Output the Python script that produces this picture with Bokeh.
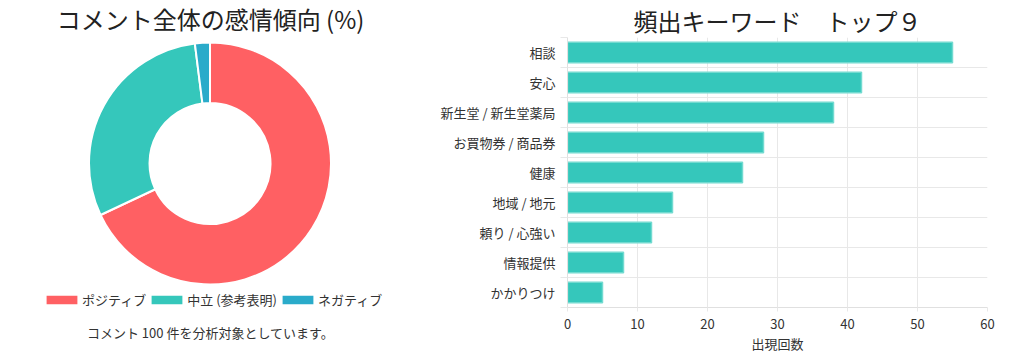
import math
from bokeh.plotting import figure
from bokeh.layouts import row
from bokeh.models import Range1d, Legend, LegendItem, FixedTicker
from bokeh.core.properties import value
from bokeh.embed import file_html
from bokeh.resources import INLINE

FONT = "Noto Sans CJK JP"

# ---- data ----
sent_labels = ["ポジティブ", "中立 (参考表明)", "ネガティブ"]
sent_values = [68, 30, 2]
sent_colors = ["#FF6063", "#35C7BB", "#2AABCA"]

keywords = ["相談", "安心", "新生堂 / 新生堂薬局", "お買物券 / 商品券", "健康",
            "地域 / 地元", "頼り / 心強い", "情報提供", "かかりつけ"]
counts = [55, 42, 38, 28, 25, 15, 12, 8, 5]
x_ticks = [0, 10, 20, 30, 40, 50, 60]

left_title = "コメント全体の感情傾向 (%)"
right_title = "頻出キーワード　トップ９"
footer = "コメント 100 件を分析対象としています。"
x_label = "出現回数"

H = 356

# ---- left: donut ----
W1 = 420
p1 = figure(width=W1, height=H, x_range=Range1d(0, W1), y_range=Range1d(0, H),
            output_backend="svg", toolbar_location=None, min_border=0)
p1.frame_align = False
p1.axis.visible = False
p1.grid.visible = False
p1.outline_line_color = None

cx, cy = 209.5, H - 163
total = sum(sent_values)
starts, ends = [], []
cum = 0
for v in sent_values:
    starts.append(math.pi / 2 - 2 * math.pi * cum / total)
    cum += v
    ends.append(math.pi / 2 - 2 * math.pi * cum / total)

r = p1.annular_wedge(x=[cx] * len(sent_values), y=[cy] * len(sent_values),
                     inner_radius=60.5, outer_radius=121,
                     start_angle=starts, end_angle=ends, direction="clock",
                     fill_color=sent_colors, line_color="white", line_width=2)

items = [LegendItem(label=lab, renderers=[r], index=i) for i, lab in enumerate(sent_labels)]
legend = Legend(items=items, orientation="horizontal", location=(41, 47),
                glyph_width=41, glyph_height=13, label_standoff=0, spacing=0,
                padding=0, margin=0, border_line_color=None, background_fill_alpha=0,
                label_text_font=FONT, label_text_font_size="13px", label_text_color="#333333")
p1.add_layout(legend, "center")

p1.text(x=[W1 / 2], y=[H - 18], text=[left_title], text_align="center", text_baseline="middle",
        text_font=value(FONT), text_font_size="24px", text_color="#222222")
p1.text(x=[W1 / 2], y=[H - 332], text=[footer], text_align="center", text_baseline="middle",
        text_font=value(FONT), text_font_size="13px", text_color="#333333")

# ---- right: horizontal bars ----
n = len(keywords)
ys = [n - 1 - i for i in range(n)]
bounds = [y + 0.5 for y in range(-1, n)]
p2 = figure(width=1024 - W1, height=H, x_range=Range1d(0, 60), y_range=Range1d(-0.5, n - 0.5),
            output_backend="svg", toolbar_location=None,
            min_border_left=147, min_border_right=37, min_border_top=35, min_border_bottom=49,
            title=right_title)
p2.frame_align = False
p2.title.align = "center"
p2.title.text_font = FONT
p2.title.text_font_size = "24px"
p2.title.text_font_style = "normal"
p2.title.text_color = "#222222"
p2.title.text_line_height = 1.0
p2.title.standoff = 0
p2.outline_line_color = None

p2.hbar(y=ys, left=0, right=counts, height=0.68, fill_color="#35C7BB",
        line_color="#72dad0", line_width=1.5)

xa = p2.xaxis[0]
xa.ticker = FixedTicker(ticks=x_ticks)
xa.axis_line_color = "#e0e0e0"
xa.major_tick_line_color = "#e8e8e8"
xa.major_tick_out = 4
xa.major_tick_in = 0
xa.minor_tick_line_color = None
xa.major_label_standoff = 7
xa.major_label_text_font = FONT
xa.major_label_text_font_size = "13px"
xa.major_label_text_color = "#333333"
xa.axis_label = x_label
xa.axis_label_text_font = FONT
xa.axis_label_text_font_size = "13px"
xa.axis_label_text_font_style = "normal"
xa.axis_label_text_color = "#333333"
xa.axis_label_standoff = 2

ya = p2.yaxis[0]
ya.ticker = FixedTicker(ticks=ys, minor_ticks=bounds)
ya.major_label_overrides = {y: k for y, k in zip(ys, keywords)}
ya.axis_line_color = "#e0e0e0"
ya.major_tick_line_color = None
ya.major_tick_out = 0
ya.minor_tick_line_color = "#e8e8e8"
ya.minor_tick_out = 7
ya.minor_tick_in = 0
ya.major_label_standoff = 5
ya.major_label_text_font = FONT
ya.major_label_text_font_size = "13px"
ya.major_label_text_color = "#333333"

p2.xgrid.ticker = FixedTicker(ticks=x_ticks)
p2.xgrid.grid_line_color = "#e8e8e8"
p2.ygrid.ticker = FixedTicker(ticks=bounds)
p2.ygrid.grid_line_color = "#e8e8e8"

layout = row(p1, p2)
open("out.html", "w").write(file_html(layout, INLINE))
